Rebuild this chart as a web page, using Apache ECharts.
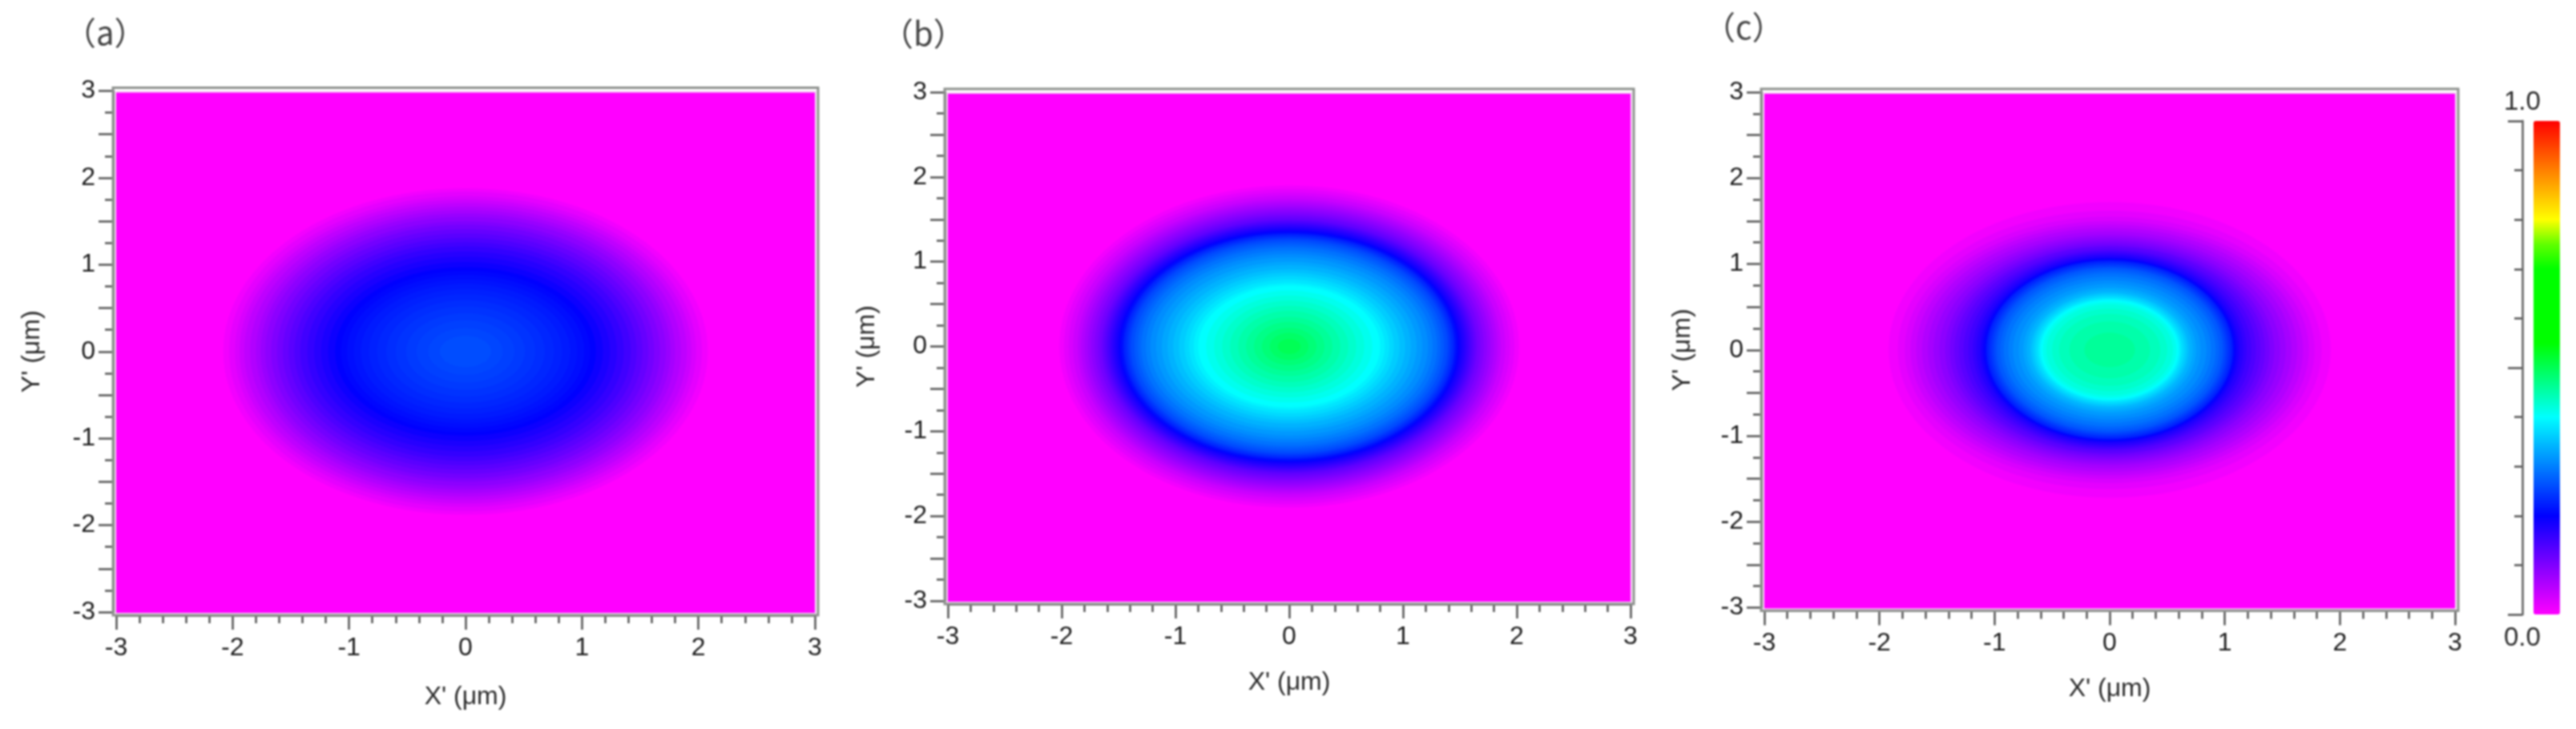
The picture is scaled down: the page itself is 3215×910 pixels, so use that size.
<!DOCTYPE html>
<html>
<head>
<meta charset="utf-8">
<title>Field maps</title>
<script src="https://cdn.jsdelivr.net/npm/echarts@6/dist/echarts.min.js"></script>
<style>
html, body { margin: 0; padding: 0; background: #fff; }
#main { width: 3215px; height: 910px; }
#main canvas { filter: blur(0.9px); }
</style>
</head>
<body>
<div id="main"></div>
<script>
// contour levels: level value, half width and half height in um
var levelsA = [0.01,0.02,0.03,0.04,0.05,0.06,0.07,0.08,0.09,0.10,0.11,0.12,0.13,0.14,0.15,0.16,0.17,0.18,0.19,0.20,0.205,0.21,0.215,0.22,0.225,0.23,0.235,0.24,0.245,0.25,0.255,0.26];
var widthsA = [2.08,2.03,1.98,1.94,1.90,1.85,1.80,1.76,1.72,1.67,1.62,1.57,1.52,1.47,1.42,1.36,1.30,1.24,1.18,1.12,1.07,1.02,0.96,0.90,0.83,0.76,0.68,0.60,0.51,0.42,0.32,0.22];
var heightsA = [1.88,1.84,1.79,1.75,1.71,1.67,1.63,1.59,1.55,1.50,1.46,1.41,1.36,1.31,1.26,1.21,1.15,1.09,1.03,0.97,0.93,0.88,0.83,0.78,0.72,0.66,0.59,0.52,0.44,0.36,0.27,0.18];

var levelsB = [0.01,0.02,0.03,0.04,0.05,0.06,0.07,0.08,0.09,0.10,0.11,0.12,0.13,0.14,0.15,0.16,0.17,0.18,0.19,0.20,0.21,0.22,0.23,0.24,0.25,0.26,0.27,0.28,0.29,0.30,0.31,0.32,0.33,0.34,0.35,0.36,0.37,0.38,0.39,0.40,0.41,0.42,0.43,0.44,0.45,0.46,0.47,0.48,0.49,0.50];
var widthsB = [2.02,1.98,1.94,1.90,1.86,1.83,1.80,1.77,1.74,1.71,1.68,1.65,1.63,1.61,1.59,1.57,1.55,1.53,1.51,1.49,1.48,1.46,1.45,1.43,1.41,1.39,1.36,1.33,1.30,1.26,1.22,1.17,1.12,1.07,1.02,0.97,0.92,0.88,0.84,0.80,0.73,0.66,0.59,0.52,0.45,0.38,0.31,0.24,0.17,0.10];
var heightsB = [1.90,1.86,1.82,1.78,1.74,1.71,1.68,1.65,1.62,1.59,1.56,1.53,1.50,1.48,1.46,1.44,1.42,1.40,1.38,1.36,1.35,1.33,1.32,1.30,1.28,1.26,1.23,1.20,1.17,1.13,1.09,1.05,1.00,0.96,0.91,0.87,0.83,0.79,0.75,0.72,0.66,0.60,0.54,0.48,0.42,0.35,0.29,0.22,0.16,0.09];

var levelsC = [0.01,0.02,0.03,0.04,0.05,0.06,0.07,0.08,0.09,0.10,0.11,0.12,0.13,0.14,0.15,0.16,0.17,0.18,0.19,0.20,0.21,0.22,0.23,0.24,0.25,0.26,0.27,0.28,0.29,0.30,0.31,0.32,0.33,0.34,0.35,0.36,0.37,0.38,0.39,0.40,0.41,0.42,0.43,0.44,0.45,0.46];
var widthsC = [1.92,1.84,1.78,1.73,1.68,1.63,1.58,1.53,1.48,1.43,1.39,1.35,1.31,1.27,1.23,1.19,1.16,1.13,1.11,1.09,1.08,1.07,1.06,1.04,1.02,1.00,0.98,0.95,0.92,0.88,0.84,0.79,0.75,0.72,0.69,0.67,0.65,0.63,0.615,0.60,0.58,0.55,0.50,0.44,0.35,0.22];
var heightsC = [1.72,1.62,1.55,1.50,1.46,1.42,1.38,1.34,1.31,1.28,1.25,1.22,1.20,1.17,1.15,1.13,1.11,1.09,1.07,1.06,1.05,1.04,1.03,1.01,0.99,0.97,0.95,0.92,0.89,0.85,0.81,0.77,0.73,0.70,0.67,0.65,0.63,0.61,0.595,0.58,0.56,0.53,0.48,0.42,0.33,0.20];

var panelNames = ['（a）', '（b）', '（c）'];
var xName = "X' (μm)";
var yName = "Y' (μm)";
var barLabels = ['1.0', '0.0'];
// colour bar from magenta at 0.0 to red at 1.0, one colour every 0.05
var barColors = ['#ff00ff','#bf00ff','#8000ff','#4000ff','#0000ff','#0040ff','#0080ff','#00bfff','#00ffff','#00ffaa','#00ff55','#00ff00','#00ff00','#00ff00','#00ff00','#60ff00','#ffff00','#ffbf00','#ff8000','#ff4000','#ff0000'];

var fontName = '"Liberation Sans", Arial, sans-serif';
var chart = echarts.init(document.getElementById('main'));

var boxes = [
    {left: 145, top: 113.5, width: 872, height: 650.5},
    {left: 1183, top: 115, width: 852, height: 635},
    {left: 2202, top: 115, width: 862, height: 643.5}
];
var contours = [
    [levelsA, widthsA, heightsA],
    [levelsB, widthsB, heightsB],
    [levelsC, widthsC, heightsC]
];
var titleSpots = [[80, 21], [1100, 22], [2126, 14]];
var xNameGaps = [86, 82, 82];
var yNameGaps = [85, 81, 82];

function renderFrame(params, api) {
    var a = api.coord([-3, 3]);
    var b = api.coord([3, -3]);
    return {
        type: 'group',
        children: [
            {type: 'rect', shape: {x: a[0] - 1, y: a[1] + 1, width: b[0] - a[0] + 2, height: b[1] - a[1] + 1},
                style: {fill: '#ff00ff', stroke: '#f4d8f4', lineWidth: 2}},
            {type: 'rect', shape: {x: a[0] - 4, y: a[1] - 4, width: b[0] - a[0] + 8, height: b[1] - a[1] + 8},
                style: {fill: 'none', stroke: '#8e918e', lineWidth: 3}}
        ]
    };
}

function renderContour(params, api) {
    var c = api.coord([0, 0]);
    var s = api.size([api.value(2), api.value(3)]);
    return {
        type: 'ellipse',
        shape: {cx: c[0], cy: c[1], rx: s[0], ry: s[1]},
        style: {fill: api.visual('color')}
    };
}

var grids = [], xAxes = [], yAxes = [], series = [], titles = [];

boxes.forEach(function (box, i) {
    grids.push(box);
    xAxes.push({
        gridIndex: i, type: 'value', min: -3, max: 3, interval: 1, offset: 4,
        name: xName, nameLocation: 'middle', nameGap: xNameGaps[i],
        nameTextStyle: {fontFamily: fontName, fontSize: 32, color: '#2c2c2c'},
        axisLine: {show: true, onZero: false, lineStyle: {color: '#6f716f', width: 3}},
        axisTick: {show: true, length: 18, lineStyle: {color: '#555', width: 2.5}},
        minorTick: {show: true, splitNumber: 5, length: 10, lineStyle: {color: '#555', width: 2.5}},
        axisLabel: {margin: 25, fontFamily: fontName, fontSize: 32, color: '#1c1c1c', showMinLabel: true, showMaxLabel: true},
        splitLine: {show: false}
    });
    yAxes.push({
        gridIndex: i, type: 'value', min: -3, max: 3, interval: 0.5, offset: 4,
        name: yName, nameLocation: 'middle', nameGap: yNameGaps[i],
        nameTextStyle: {fontFamily: fontName, fontSize: 32, color: '#2c2c2c'},
        axisLine: {show: true, onZero: false, lineStyle: {color: '#6f716f', width: 3}},
        axisTick: {show: true, length: 18, lineStyle: {color: '#555', width: 2.5}},
        minorTick: {show: true, splitNumber: 2, length: 10, lineStyle: {color: '#555', width: 2.5}},
        axisLabel: {
            margin: 22, fontFamily: fontName, fontSize: 32, color: '#1c1c1c',
            formatter: function (v) { return Number.isInteger(v) ? String(v) : ''; }
        },
        splitLine: {show: false}
    });
    series.push({
        type: 'custom', name: 'frame' + i, xAxisIndex: i, yAxisIndex: i, silent: true, z: 1,
        data: [[0, 0]], encode: {x: 0, y: 1}, renderItem: renderFrame
    });
    var rows = contours[i][0].map(function (level, k) {
        return [0, 0, contours[i][1][k], contours[i][2][k], level];
    });
    series.push({
        type: 'custom', name: 'panel' + i, xAxisIndex: i, yAxisIndex: i, silent: true, z: 2,
        data: rows, encode: {x: 0, y: 1}, renderItem: renderContour
    });
    titles.push({
        text: panelNames[i], left: titleSpots[i][0], top: titleSpots[i][1], padding: 0,
        textStyle: {fontFamily: '"Noto Sans CJK SC", sans-serif', fontSize: 40, fontWeight: 'normal', color: '#444'}
    });
});

// colour bar scale: an axis on its own grid beside the visualMap bar
grids.push({left: 3162, top: 151, width: 33, height: 616});
xAxes.push({gridIndex: 3, type: 'value', show: false, min: 0, max: 1});
yAxes.push({
    gridIndex: 3, type: 'value', min: 0, max: 1, interval: 0.5, offset: 14,
    axisLine: {show: true, onZero: false, lineStyle: {color: '#777', width: 3}},
    axisTick: {show: true, length: 18, lineStyle: {color: '#555', width: 2.5}},
    minorTick: {show: true, splitNumber: 5, length: 10, lineStyle: {color: '#555', width: 2.5}},
    axisLabel: {show: false},
    splitLine: {show: false}
});
titles.push({
    text: barLabels[0], left: 3125, top: 111, padding: 0,
    textStyle: {fontFamily: fontName, fontSize: 33, fontWeight: 'normal', color: '#2c2c2c'}
});
titles.push({
    text: barLabels[1], left: 3125, top: 780, padding: 0,
    textStyle: {fontFamily: fontName, fontSize: 33, fontWeight: 'normal', color: '#2c2c2c'}
});

chart.setOption({
    backgroundColor: '#ffffff',
    animation: false,
    title: titles,
    grid: grids,
    xAxis: xAxes,
    yAxis: yAxes,
    visualMap: {
        type: 'continuous', min: 0, max: 1, dimension: 4, seriesIndex: [1, 3, 5],
        left: 3162, top: 151, padding: 0, itemWidth: 33, itemHeight: 616,
        calculable: false, showLabel: false, text: null,
        inRange: {color: barColors}
    },
    series: series
});
</script>
</body>
</html>
